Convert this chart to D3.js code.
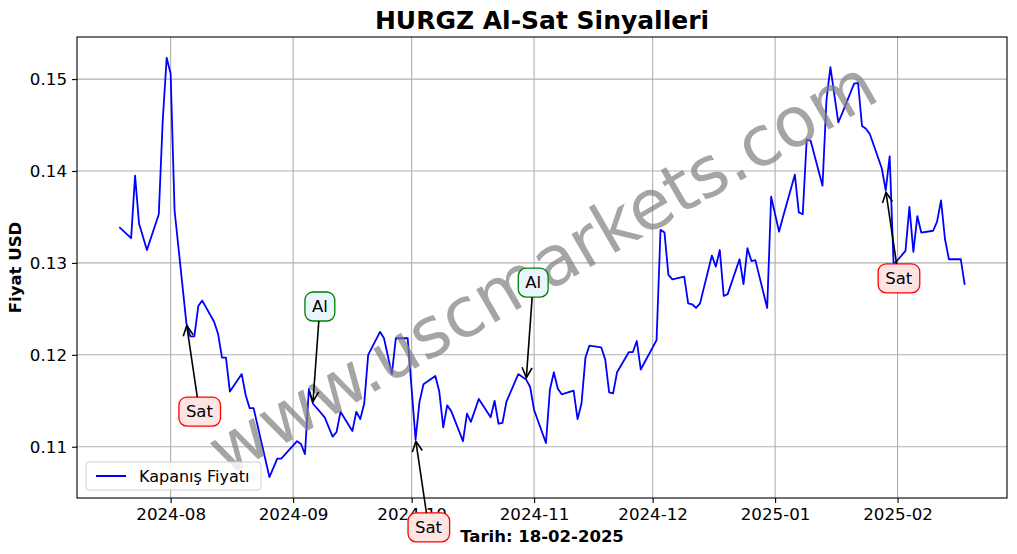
<!DOCTYPE html>
<html><head><meta charset="utf-8">
<script src="https://cdn.jsdelivr.net/npm/d3@7"></script>
<style>body{margin:0;background:#fff} svg{display:block} text{font-family:"DejaVu Sans",sans-serif}</style>
</head><body><svg id="c" width="1017" height="554"></svg>
<script>
const dates = ["2024-07-19","2024-07-22","2024-07-23","2024-07-24","2024-07-26","2024-07-29","2024-07-30","2024-07-31","2024-08-01","2024-08-02","2024-08-05","2024-08-06","2024-08-07","2024-08-08","2024-08-09","2024-08-12","2024-08-13","2024-08-14","2024-08-15","2024-08-16","2024-08-19","2024-08-20","2024-08-21","2024-08-22","2024-08-26","2024-08-28","2024-08-29","2024-09-02","2024-09-03","2024-09-04","2024-09-05","2024-09-06","2024-09-09","2024-09-11","2024-09-12","2024-09-13","2024-09-16","2024-09-17","2024-09-18","2024-09-19","2024-09-20","2024-09-23","2024-09-24","2024-09-26","2024-09-27","2024-09-30","2024-10-02","2024-10-03","2024-10-04","2024-10-07","2024-10-08","2024-10-09","2024-10-10","2024-10-11","2024-10-14","2024-10-15","2024-10-16","2024-10-18","2024-10-21","2024-10-22","2024-10-23","2024-10-24","2024-10-25","2024-10-28","2024-10-30","2024-10-31","2024-11-01","2024-11-04","2024-11-05","2024-11-06","2024-11-07","2024-11-08","2024-11-11","2024-11-12","2024-11-13","2024-11-14","2024-11-15","2024-11-18","2024-11-19","2024-11-20","2024-11-21","2024-11-22","2024-11-25","2024-11-26","2024-11-27","2024-11-28","2024-12-02","2024-12-03","2024-12-04","2024-12-05","2024-12-06","2024-12-09","2024-12-10","2024-12-11","2024-12-12","2024-12-13","2024-12-16","2024-12-17","2024-12-18","2024-12-19","2024-12-20","2024-12-23","2024-12-24","2024-12-25","2024-12-26","2024-12-27","2024-12-30","2024-12-31","2025-01-02","2025-01-03","2025-01-06","2025-01-07","2025-01-08","2025-01-09","2025-01-10","2025-01-13","2025-01-14","2025-01-15","2025-01-17","2025-01-18","2025-01-21","2025-01-22","2025-01-23","2025-01-24","2025-01-25","2025-01-28","2025-01-29","2025-01-30","2025-01-31","2025-02-03","2025-02-04","2025-02-05","2025-02-06","2025-02-07","2025-02-10","2025-02-11","2025-02-12","2025-02-13","2025-02-14","2025-02-17","2025-02-18"];
const closes = [0.1339,0.1327,0.1395,0.1343,0.1314,0.1353,0.1455,0.1523,0.1506,0.1357,0.1234,0.1220,0.1220,0.1253,0.1259,0.1236,0.1223,0.1197,0.1197,0.1160,0.1179,0.1156,0.1142,0.1142,0.1067,0.1087,0.1087,0.1106,0.1103,0.1092,0.1163,0.1147,0.1132,0.1111,0.1116,0.1138,0.1117,0.1138,0.1130,0.1147,0.1200,0.1225,0.1218,0.1179,0.1218,0.1218,0.1108,0.1149,0.1168,0.1177,0.1160,0.1121,0.1145,0.1139,0.1106,0.1136,0.1127,0.1152,0.1132,0.1150,0.1125,0.1126,0.1149,0.1179,0.1173,0.1165,0.1140,0.1104,0.1162,0.1181,0.1163,0.1157,0.1161,0.1130,0.1147,0.1197,0.1210,0.1208,0.1195,0.1159,0.1158,0.1181,0.1203,0.1203,0.1215,0.1184,0.1216,0.1336,0.1333,0.1287,0.1282,0.1285,0.1256,0.1255,0.1251,0.1256,0.1308,0.1296,0.1314,0.1264,0.1266,0.1304,0.1277,0.1316,0.1302,0.1303,0.1251,0.1372,0.1334,0.1350,0.1396,0.1355,0.1353,0.1434,0.1433,0.1384,0.1477,0.1513,0.1453,0.1463,0.1495,0.1496,0.1449,0.1446,0.1440,0.1403,0.1379,0.1416,0.1298,0.1313,0.1361,0.1312,0.1351,0.1333,0.1335,0.1345,0.1368,0.1326,0.1304,0.1304,0.1276];
const signalDates = ["2024-08-05","2024-09-06","2024-10-02","2024-10-30","2025-01-29"];
const signalTypes = ["Sat","Al","Sat","Al","Sat"];
const yTicks = [0.11,0.12,0.13,0.14,0.15];
const xTickLabels = ["2024-08","2024-09","2024-10","2024-11","2024-12","2025-01","2025-02"];
const titleText = "HURGZ Al-Sat Sinyalleri";
const xLabelText = "Tarih: 18-02-2025";
const yLabelText = "Fiyat USD";
const legendText = "Kapanış Fiyatı";
const watermarkText = "www.uscmarkets.com";

const W = 1017, H = 554;
const m = {l:77, r:1007, t:37, b:498};
const parse = d3.utcParse("%Y-%m-%d");
const pts = dates.map((d,i)=>({d:parse(d), v:closes[i]}));
const svg = d3.select("#c");

const xe = d3.extent(pts, p=>p.d), ye = d3.extent(pts, p=>p.v);
const xpad = (xe[1]-xe[0])*0.05, ypad = (ye[1]-ye[0])*0.05;
const x = d3.scaleUtc().domain([new Date(+xe[0]-xpad), new Date(+xe[1]+xpad)]).range([m.l, m.r]);
const y = d3.scaleLinear().domain([ye[0]-ypad, ye[1]+ypad]).range([m.b, m.t]);

const xTickDates = xTickLabels.map(s=>d3.utcParse("%Y-%m")(s));

// grid
const g = svg.append("g");
g.selectAll(".gx").data(xTickDates).enter().append("line")
  .attr("x1",d=>x(d)).attr("x2",d=>x(d)).attr("y1",m.t).attr("y2",m.b)
  .attr("stroke","#b0b0b0").attr("stroke-width",1.1);
g.selectAll(".gy").data(yTicks).enter().append("line")
  .attr("x1",m.l).attr("x2",m.r).attr("y1",d=>y(d)).attr("y2",d=>y(d))
  .attr("stroke","#b0b0b0").attr("stroke-width",1.1);

// line
svg.append("clipPath").attr("id","cp").append("rect")
  .attr("x",m.l).attr("y",m.t).attr("width",m.r-m.l).attr("height",m.b-m.t);
svg.append("path").datum(pts)
  .attr("d", d3.line().x(p=>x(p.d)).y(p=>y(p.v)))
  .attr("fill","none").attr("stroke","#0000ff").attr("stroke-width",1.8)
  .attr("stroke-linejoin","round").attr("clip-path","url(#cp)");

// axes
const xAxis = d3.axisBottom(x).tickValues(xTickDates).tickFormat((d,i)=>xTickLabels[i]).tickSize(5).tickPadding(5);
const yAxis = d3.axisLeft(y).tickValues(yTicks).tickFormat(d3.format(".2f")).tickSize(5).tickPadding(5);
const ax = svg.append("g").attr("transform",`translate(0,${m.b})`).call(xAxis);
const ay = svg.append("g").attr("transform",`translate(${m.l},0)`).call(yAxis);
[ax, ay].forEach(a=>{
  a.select(".domain").remove();
  a.selectAll("line").attr("stroke","#000").attr("stroke-width",1.1);
  a.selectAll("text").attr("fill","#000").style("font-family","DejaVu Sans").style("font-size","16.7px");
});

// frame
svg.append("rect").attr("x",m.l).attr("y",m.t).attr("width",m.r-m.l).attr("height",m.b-m.t)
  .attr("fill","none").attr("stroke","#000").attr("stroke-width",1.1);

// watermark
svg.append("text").text(watermarkText)
  .attr("x",(m.l+m.r)/2).attr("y",(m.t+m.b)/2)
  .attr("text-anchor","middle").attr("dominant-baseline","central")
  .attr("transform",`rotate(-30,${(m.l+m.r)/2},${(m.t+m.b)/2})`)
  .attr("fill","#808080").attr("opacity",0.7).style("font-size","69.4px");

// annotations
const style = {Sat:{stroke:"#ff0000", fill:"#ffe4e4", dx:13, dy:88}, Al:{stroke:"#008000", fill:"#eaf4fd", dx:7, dy:-97}};
signalDates.forEach((sd,i)=>{
  const t = signalTypes[i];
  const idx = dates.indexOf(sd);
  const px = x(pts[idx].d), py = y(pts[idx].v);
  const s = style[t];
  const tx = px + s.dx, ty = py + s.dy;
  const gg = svg.append("g");
  const txt = gg.append("text").text(t).attr("x",tx).attr("y",ty)
    .attr("text-anchor","middle").attr("dominant-baseline","central").style("font-size","16.5px").attr("fill","#000");
  const bb = txt.node().getBBox();
  const pad = 7;
  const bx = bb.x - pad, by = ty - 14.5, bw = bb.width + 2*pad, bh = 29;
  gg.insert("rect","text").attr("x",bx).attr("y",by).attr("width",bw).attr("height",bh)
    .attr("rx",8).attr("ry",8).attr("fill",s.fill).attr("stroke",s.stroke).attr("stroke-width",1.3);
  const ddx = px - tx, ddy = py - ty;
  const sc = Math.min(Math.abs((bw/2)/ddx||Infinity), Math.abs((bh/2)/ddy||Infinity));
  const sx = tx + ddx*sc, sy = ty + ddy*sc;
  const L = Math.hypot(px-sx, py-sy), ux=(px-sx)/L, uy=(py-sy)/L;
  const ex = px - ux*2, ey = py - uy*2;
  svg.append("line").attr("x1",sx).attr("y1",sy).attr("x2",ex).attr("y2",ey)
    .attr("stroke","#000").attr("stroke-width",1.6);
  const hl = 10, hw = 5;
  const bxp = ex - ux*hl, byp = ey - uy*hl;
  svg.append("path").attr("d",`M${bxp - uy*hw},${byp + ux*hw}L${ex},${ey}L${bxp + uy*hw},${byp - ux*hw}`)
    .attr("fill","none").attr("stroke","#000").attr("stroke-width",1.6);
});

// legend
const lg = svg.append("g");
lg.append("rect").attr("x",86).attr("y",462).attr("width",175).attr("height",28).attr("rx",3)
  .attr("fill","#fff").attr("fill-opacity",0.8).attr("stroke","#d0d0d0").attr("stroke-width",1);
lg.append("line").attr("x1",96).attr("x2",126).attr("y1",476).attr("y2",476).attr("stroke","#0000ff").attr("stroke-width",2);
lg.append("text").text(legendText).attr("x",139).attr("y",476).attr("dominant-baseline","central").style("font-size","16px").attr("fill","#000");

// title and labels
svg.append("text").text(titleText).attr("x",(m.l+m.r)/2).attr("y",29).attr("text-anchor","middle")
  .style("font-size","25px").style("font-weight","bold").attr("fill","#000");
svg.append("text").text(xLabelText).attr("x",(m.l+m.r)/2).attr("y",542).attr("text-anchor","middle")
  .style("font-size","16.5px").style("font-weight","bold").attr("fill","#000");
svg.append("text").text(yLabelText).attr("transform",`translate(21,${(m.t+m.b)/2}) rotate(-90)`).attr("text-anchor","middle")
  .style("font-size","16.5px").style("font-weight","bold").attr("fill","#000");
</script></body></html>
